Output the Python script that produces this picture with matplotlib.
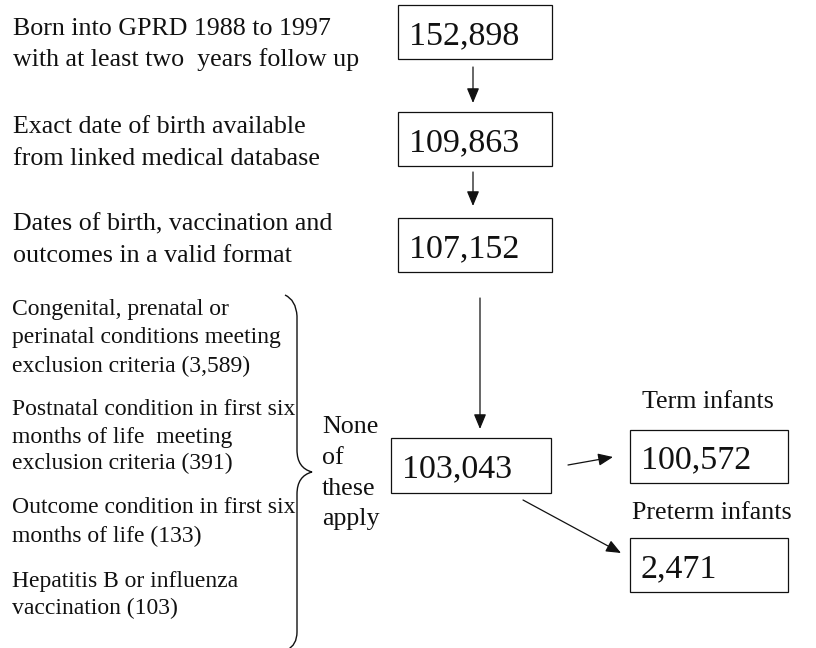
import matplotlib.pyplot as plt
from matplotlib.patches import Rectangle, FancyArrowPatch, PathPatch
from matplotlib.path import Path

# flowchart content
step_labels = [
    "Born into GPRD 1988 to 1997\nwith at least two  years follow up",
    "Exact date of birth available\nfrom linked medical database",
    "Dates of birth, vaccination and\noutcomes in a valid format",
]
box_counts = ["152,898", "109,863", "107,152", "103,043", "100,572", "2,471"]
exclusion_labels = [
    ["Congenital, prenatal or", "perinatal conditions meeting", "exclusion criteria (3,589)"],
    ["Postnatal condition in first six", "months of life  meeting", "exclusion criteria (391)"],
    ["Outcome condition in first six", "months of life (133)"],
    ["Hepatitis B or influenza", "vaccination (103)"],
]
none_label = ["None", "of", "these", "apply"]
branch_labels = ["Term infants", "Preterm infants"]

plt.rcParams['font.family'] = ['Liberation Serif', 'DejaVu Serif']

fig = plt.figure(figsize=(8.16, 6.48), dpi=100)
ax = fig.add_axes([0, 0, 1, 1])
ax.set_xlim(0, 816)
ax.set_ylim(648, 0)
ax.axis('off')

ink = '#111111'

# left step descriptions (two lines each)
step_baselines = [(35, 66), (133, 165), (230, 262)]
for label, ys in zip(step_labels, step_baselines):
    for line, y in zip(label.split("\n"), ys):
        ax.text(13, y, line, fontsize=18.7, va='baseline', ha='left', color=ink)

# boxes: x, top, width, height, text offset
boxes = [
    (398, 5, 154, 54),
    (398, 112, 154, 54),
    (398, 218, 154, 54),
    (391, 438, 160, 55),
    (630, 430, 158, 53),
    (630, 538, 158, 54),
]
for (x, y, w, h), txt in zip(boxes, box_counts):
    ax.add_patch(Rectangle((x, y), w, h, fill=False, ec=ink, lw=0.9))
    ax.text(x + 11, y + h / 2 + 12, txt, fontsize=24.5, va='baseline', ha='left', color=ink)

def arrow(p0, p1):
    ax.add_patch(FancyArrowPatch(p0, p1, arrowstyle='-|>,head_length=0.6,head_width=0.25',
                                 mutation_scale=15, lw=0.9, color=ink, shrinkA=0, shrinkB=0))

arrow((473, 67), (473, 103))
arrow((473, 172), (473, 206))
arrow((480, 298), (480, 429))
arrow((568, 465), (613, 457))
arrow((523, 500), (621, 553))

# exclusion list on the lower left
excl_baselines = [[315, 343, 372], [415, 443, 469], [513, 542], [587, 614]]
for lines, ys in zip(exclusion_labels, excl_baselines):
    for line, y in zip(lines, ys):
        ax.text(12, y, line, fontsize=17, va='baseline', ha='left', color=ink)

# curly brace
verts = [(285, 295), (296, 300), (297, 316),
         (297, 450),
         (297, 468), (312, 472),
         (297, 476), (297, 494),
         (297, 632),
         (297, 645), (287, 650)]
codes = [Path.MOVETO, Path.CURVE3, Path.CURVE3,
         Path.LINETO,
         Path.CURVE3, Path.CURVE3,
         Path.CURVE3, Path.CURVE3,
         Path.LINETO,
         Path.CURVE3, Path.CURVE3]
ax.add_patch(PathPatch(Path(verts, codes), fill=False, ec=ink, lw=1.0))

for word, y in zip(none_label, [433, 464, 495, 525]):
    ax.text(322, y, word, fontsize=18.7, va='baseline', ha='left', color=ink)

ax.text(642, 408, branch_labels[0], fontsize=18.7, va='baseline', ha='left', color=ink)
ax.text(632, 519, branch_labels[1], fontsize=18.7, va='baseline', ha='left', color=ink)

fig.savefig('out.png', dpi=100, facecolor='white')
plt.close(fig)
